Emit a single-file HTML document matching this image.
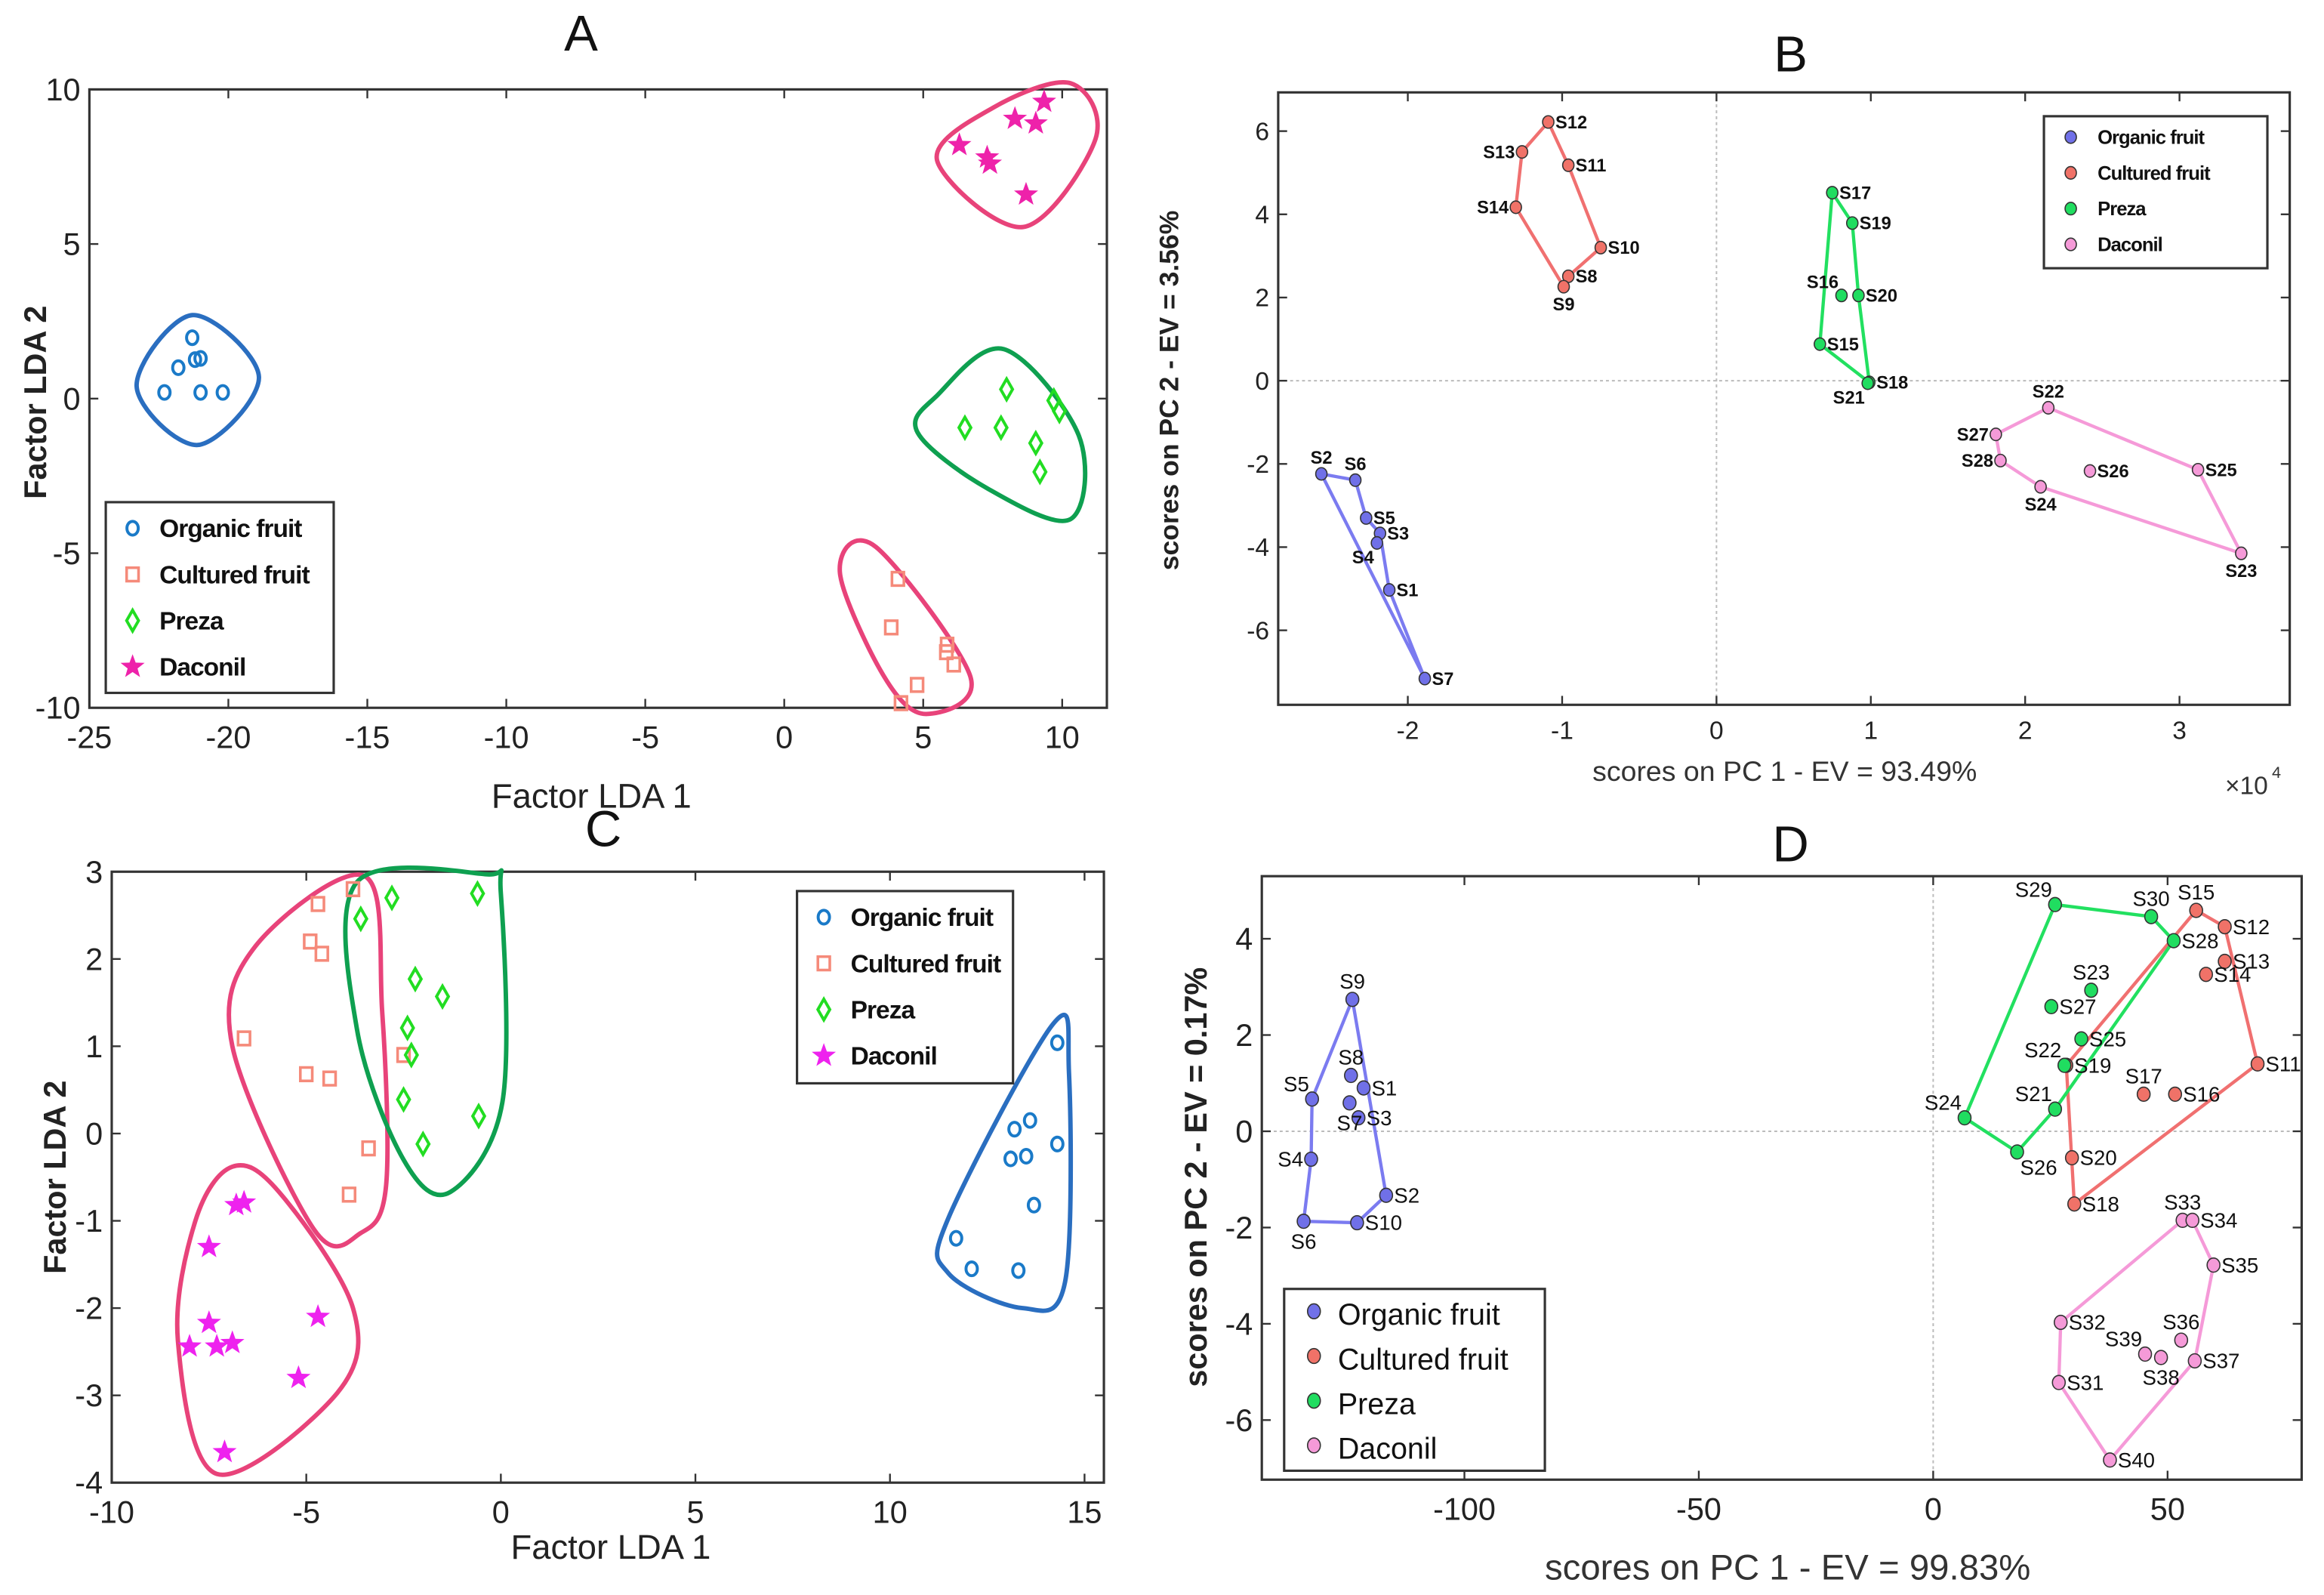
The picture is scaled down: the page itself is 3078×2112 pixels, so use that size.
<!DOCTYPE html>
<html><head><meta charset="utf-8">
<style>
html,body{margin:0;padding:0;background:#fff;}
svg{display:block;}
text{font-family:"Liberation Sans",sans-serif;}
</style></head>
<body>
<svg id="fig" xmlns="http://www.w3.org/2000/svg" width="3078" height="2112" viewBox="0 0 1560 1070.4" preserveAspectRatio="none">
<rect x="0" y="0" width="1560" height="1071" fill="#fff"/>
</svg>
<script>
// ---------- Panel A data ----------
const aOrganicX=[-22.3,-21.8,-21.3,-21.2,-21.0,-21.0,-20.2];
const aOrganicY=[0.2,1.0,1.97,1.26,1.3,0.2,0.2];
const aCulturedX=[4.09,3.85,5.86,5.83,6.1,4.78,4.2];
const aCulturedY=[-5.83,-7.4,-7.96,-8.2,-8.6,-9.26,-9.85];
const aPrezaX=[6.5,8.0,7.8,9.7,9.9,9.05,9.2];
const aPrezaY=[-0.94,0.3,-0.94,-0.06,-0.4,-1.44,-2.37];
const aDaconilX=[6.3,7.3,7.4,8.3,9.05,9.35,8.7];
const aDaconilY=[8.2,7.8,7.6,9.05,8.9,9.6,6.6];
const aHullOrganic=[[-21.3,2.7],[-18.9,0.7],[-21.1,-1.5],[-23.3,0.4]];
const aHullCultured=[[3.3,-4.8],[6.7,-9.0],[5.1,-10.2],[3.6,-9.0],[2.0,-5.6]];
const aHullPreza=[[7.9,1.6],[10.6,-1.2],[10.3,-3.9],[7.3,-2.9],[4.8,-1.1],[5.5,0.1]];
const aHullDaconil=[[10.3,10.2],[11.2,8.4],[8.6,5.55],[5.5,7.7],[7.5,9.4]];
const aXTicks=[-25,-20,-15,-10,-5,0,5,10];
const aYTicks=[-10,-5,0,5,10];
// ---------- Panel B data (x in 1e4) ----------
const bNames=["S1","S2","S3","S4","S5","S6","S7","S8","S9","S10","S11","S12","S13","S14","S15","S16","S17","S18","S19","S20","S21","S22","S23","S24","S25","S26","S27","S28"];
const bX=[-2.12,-2.56,-2.18,-2.2,-2.27,-2.34,-1.89,-0.96,-0.99,-0.75,-0.96,-1.09,-1.26,-1.3,0.67,0.81,0.75,0.99,0.88,0.92,0.98,2.15,3.4,2.1,3.12,2.42,1.81,1.84];
const bY=[-5.03,-2.24,-3.67,-3.9,-3.3,-2.39,-7.16,2.51,2.26,3.2,5.18,6.22,5.5,4.17,0.88,2.05,4.52,-0.04,3.79,2.05,-0.06,-0.65,-4.15,-2.55,-2.14,-2.17,-1.29,-1.92];
const bGroup=[0,0,0,0,0,0,0,1,1,1,1,1,1,1,2,2,2,2,2,2,2,3,3,3,3,3,3,3];
const bHulls=[["S2","S6","S5","S3","S1","S7"],["S12","S11","S10","S8","S9","S14","S13"],["S17","S19","S20","S18","S15"],["S22","S25","S23","S24","S28","S27"]];
const bXTicks=[-2,-1,0,1,2,3];
const bYTicks=[-6,-4,-2,0,2,4,6];
// ---------- Panel C data ----------
const cOrganicX=[14.3,13.2,13.6,13.1,13.5,14.3,13.7,11.7,12.1,13.3];
const cOrganicY=[1.04,0.05,0.15,-0.29,-0.26,-0.12,-0.82,-1.2,-1.55,-1.57];
const cCulturedX=[-3.8,-4.7,-4.9,-4.6,-6.6,-5.0,-4.4,-3.4,-3.9,-2.5];
const cCulturedY=[2.8,2.63,2.2,2.06,1.09,0.68,0.63,-0.17,-0.7,0.9];
const cPrezaX=[-3.6,-2.8,-0.6,-2.2,-1.5,-2.4,-2.3,-2.5,-2.0,-0.57];
const cPrezaY=[2.46,2.7,2.75,1.77,1.57,1.21,0.9,0.39,-0.12,0.2];
const cDaconilX=[-6.6,-6.8,-7.5,-7.5,-8.0,-7.3,-6.9,-4.7,-5.2,-7.1];
const cDaconilY=[-0.79,-0.82,-1.3,-2.17,-2.44,-2.44,-2.4,-2.1,-2.8,-3.65];
const cHullOrganic=[[14.2,1.26],[14.6,0.7],[14.5,-1.7],[13.4,-2.0],[11.5,-1.6],[11.5,-0.97]];
const cHullCultured=[[-3.5,2.95],[-3.05,1.4],[-2.95,-0.6],[-3.6,-1.14],[-4.8,-1.1],[-6.9,1.0],[-6.3,2.15]];
const cHullPreza=[[-3.7,2.88],[-0.38,2.97],[0,2.75],[0.04,0.36],[-1.3,-0.67],[-2.5,-0.3],[-3.7,1.2]];
const cHullDaconil=[[-6.9,-0.38],[-5.7,-0.67],[-3.8,-2.0],[-4.2,-2.97],[-7.3,-3.9],[-8.3,-2.37],[-7.85,-1.0]];
const cXTicks=[-10,-5,0,5,10,15];
const cYTicks=[-4,-3,-2,-1,0,1,2,3];
// ---------- Panel D data ----------
const dNames=["S1","S2","S3","S4","S5","S6","S7","S8","S9","S10","S11","S12","S13","S14","S15","S16","S17","S18","S19","S20","S21","S22","S23","S24","S25","S26","S27","S28","S29","S30","S31","S32","S33","S34","S35","S36","S37","S38","S39","S40"];
const dX=[-121.5,-116.7,-122.6,-132.7,-132.5,-134.3,-124.5,-124.2,-123.9,-122.9,69.2,62.2,62.2,58.2,56.1,51.6,44.9,30.1,28.4,29.6,26.0,28.0,33.7,6.7,31.6,17.9,25.2,51.3,26.0,46.5,26.8,27.2,53.2,55.3,59.8,52.9,55.8,48.6,45.2,37.7];
const dY=[0.9,-1.33,0.28,-0.58,0.67,-1.87,0.59,1.16,2.74,-1.9,1.4,4.25,3.53,3.26,4.59,0.77,0.77,-1.51,1.37,-0.55,0.46,1.37,2.93,0.28,1.92,-0.43,2.59,3.96,4.71,4.46,-5.22,-3.97,-1.85,-1.85,-2.78,-4.34,-4.77,-4.7,-4.63,-6.83];
const dGroup=[0,0,0,0,0,0,0,0,0,0,1,1,1,1,1,1,1,1,1,1,2,2,2,2,2,2,2,2,2,2,3,3,3,3,3,3,3,3,3,3];
const dHulls=[["S9","S2","S10","S6","S4","S5"],["S15","S12","S11","S18","S19"],["S29","S30","S28","S21","S26","S24"],["S33","S34","S35","S37","S40","S31","S32"]];
const dXTicks=[-100,-50,0,50];
const dYTicks=[-6,-4,-2,0,2,4];
const legendNames=["Organic fruit","Cultured fruit","Preza","Daconil"];

const NS="http://www.w3.org/2000/svg";
const svg=document.getElementById('fig');
function el(tag,attrs,parent){const e=document.createElementNS(NS,tag);for(const k in attrs)e.setAttribute(k,attrs[k]);(parent||svg).appendChild(e);return e;}
function txt(s,x,y,size,attrs,parent){const t=el('text',Object.assign({x:x,y:y,'font-size':size},attrs||{}),parent);t.textContent=s;return t;}
function scale(d0,d1,p0,p1){return v=>p0+(v-d0)*(p1-p0)/(d1-d0);}
function smooth(pts){const n=pts.length;let d=`M${pts[0][0]},${pts[0][1]}`;for(let i=0;i<n;i++){const p0=pts[(i-1+n)%n],p1=pts[i],p2=pts[(i+1)%n],p3=pts[(i+2)%n];const c1=[p1[0]+(p2[0]-p0[0])/6,p1[1]+(p2[1]-p0[1])/6],c2=[p2[0]-(p3[0]-p1[0])/6,p2[1]-(p3[1]-p1[1])/6];d+=`C${c1[0]},${c1[1]} ${c2[0]},${c2[1]} ${p2[0]},${p2[1]}`;}return d+'Z';}

function frame(g,L,T,R,B,sx,sy,xt,yt,fs,xlab,ylab){
  el('rect',{x:L,y:T,width:R-L,height:B-T,fill:'none',stroke:'#333','stroke-width':1.6},g);
  xt.forEach(v=>{const x=sx(v);el('line',{x1:x,y1:B,x2:x,y2:B-6,stroke:'#333','stroke-width':1.2},g);el('line',{x1:x,y1:T,x2:x,y2:T+6,stroke:'#333','stroke-width':1.2},g);
    const t=txt(xlab?xlab(v):String(v),x,B+fs+6,fs,{'text-anchor':'middle',fill:'#222'},g);});
  yt.forEach(v=>{const y=sy(v);el('line',{x1:L,y1:y,x2:L+6,y2:y,stroke:'#333','stroke-width':1.2},g);el('line',{x1:R,y1:y,x2:R-6,y2:y,stroke:'#333','stroke-width':1.2},g);
    const t=txt(String(v),L-6,y+fs*0.35,fs,{'text-anchor':'end',fill:'#222'},g);});
}
function marker(g,type,x,y,color){
  if(type==='o') el('ellipse',{cx:x,cy:y,rx:3.8,ry:4.6,fill:'none',stroke:color,'stroke-width':2},g);
  else if(type==='s') el('rect',{x:x-4,y:y-4.5,width:8,height:9,fill:'none',stroke:color,'stroke-width':1.8},g);
  else if(type==='d') el('path',{d:`M${x},${y-7}L${x+4},${y}L${x},${y+7}L${x-4},${y}Z`,fill:'none',stroke:color,'stroke-width':2},g);
  else if(type==='*'){let d='';for(let i=0;i<10;i++){const r=i%2?3.5:8.5,a=-Math.PI/2+i*Math.PI/5;d+=(i?'L':'M')+(x+r*Math.cos(a))+','+(y+r*Math.sin(a));}el('path',{d:d+'Z',fill:color},g);}
}
function legendBox(g,x,y,w,h,items,fs,rowH,name){
  const lg=el('g',{},g);
  el('rect',{x:x,y:y,width:w,height:h,fill:'#fff',stroke:'#333','stroke-width':1.6},lg);
  items.forEach((it,i)=>{const cy=y+rowH*(i+0.5)+2;it.draw(lg,x+18,cy);const t=txt(it.label,x+36,cy+fs*0.35,fs,{fill:'#111','font-weight':it.bold?'bold':'normal','letter-spacing':it.bold?'-0.5':'0'},lg);});
}

// ================= Panel A =================
(function(){
  const g=el('g',{});
  const L=60,R=743,T=60,B=475;
  const sx=scale(-25,10,L,713),sy=scale(-10,10,B,T);
  frame(g,L,T,R,B,sx,sy,aXTicks,aYTicks,21);
  txt('A',390,34,34,{'text-anchor':'middle',fill:'#111'},g);
  txt('Factor LDA 1',397,542,23,{'text-anchor':'middle',fill:'#222'},g);
  txt('Factor LDA 2',0,0,21,{'text-anchor':'middle',fill:'#222','font-weight':'bold',transform:'translate(31,270) rotate(-90)'},g);
  const hulls=[[aHullOrganic,'#2a6ec0'],[aHullCultured,'#e8437a'],[aHullPreza,'#0ea050'],[aHullDaconil,'#e8437a']];
  hulls.forEach(h=>{const p=el('path',{d:smooth(h[0].map(q=>[sx(q[0]),sy(q[1])])),fill:'none',stroke:h[1],'stroke-width':3},g);});
  const sets=[[aOrganicX,aOrganicY,'o','#1a7ac8'],[aCulturedX,aCulturedY,'s','#f58a7a'],[aPrezaX,aPrezaY,'d','#22dd22'],[aDaconilX,aDaconilY,'*','#ee22aa']];
  sets.forEach(s=>s[0].forEach((v,i)=>marker(g,s[2],sx(v),sy(s[1][i]),s[3])));
  legendBox(g,71,337,153,128,sets.map((s,i)=>({label:legendNames[i],bold:true,draw:(lg,x,y)=>marker(lg,s[2],x,y,s[3])})),17,31,'legend-a');
})();

// ================= Panel C =================
(function(){
  const g=el('g',{});
  const L=75,R=741,T=585,B=995;
  const sx=scale(-10,15,L,728),sy=scale(-4,3,B,T);
  frame(g,L,T,R,B,sx,sy,cXTicks,cYTicks,21);
  txt('C',405,568,34,{'text-anchor':'middle',fill:'#111'},g);
  txt('Factor LDA 1',410,1046,23,{'text-anchor':'middle',fill:'#222'},g);
  txt('Factor LDA 2',0,0,21,{'text-anchor':'middle',fill:'#222','font-weight':'bold',transform:'translate(44,790) rotate(-90)'},g);
  const hulls=[[cHullOrganic,'#2a6ec0'],[cHullCultured,'#e8437a'],[cHullPreza,'#0ea050'],[cHullDaconil,'#e8437a']];
  hulls.forEach(h=>{const p=el('path',{d:smooth(h[0].map(q=>[sx(q[0]),sy(q[1])])),fill:'none',stroke:h[1],'stroke-width':3},g);});
  const sets=[[cOrganicX,cOrganicY,'o','#1a7ac8'],[cCulturedX,cCulturedY,'s','#f58a7a'],[cPrezaX,cPrezaY,'d','#22dd22'],[cDaconilX,cDaconilY,'*','#ee22ee']];
  sets.forEach(s=>s[0].forEach((v,i)=>marker(g,s[2],sx(v),sy(s[1][i]),s[3])));
  legendBox(g,535,598,145,129,sets.map((s,i)=>({label:legendNames[i],bold:true,draw:(lg,x,y)=>marker(lg,s[2],x,y,s[3])})),17,31,'legend-c');
})();

// ============ PCA panels (B, D) ============
const pcaFill=['#7070e8','#f07268','#20dd60','#f59ad8'];
const pcaLine=['#7b7bf0','#f07070','#22e060','#f59ad8'];
function pcaPanel(cfg){
  const g=el('g',{});
  const sx=scale(cfg.x0,cfg.x1,cfg.px0,cfg.px1),sy=scale(cfg.y0,cfg.y1,cfg.py0,cfg.py1);
  el('line',{x1:sx(0),y1:cfg.T,x2:sx(0),y2:cfg.B,stroke:'#bbb','stroke-width':1,'stroke-dasharray':'2,2'},g);
  el('line',{x1:cfg.L,y1:sy(0),x2:cfg.R,y2:sy(0),stroke:'#bbb','stroke-width':1,'stroke-dasharray':'2,2'},g);
  frame(g,cfg.L,cfg.T,cfg.R,cfg.B,sx,sy,cfg.xt,cfg.yt,cfg.tfs);
  cfg.hulls.forEach((h,gi)=>{const pts=h.map(n=>{const i=cfg.names.indexOf(n);return sx(cfg.X[i])+','+sy(cfg.Y[i]);});
    const p=el('polygon',{points:pts.join(' '),fill:'none',stroke:pcaLine[gi],'stroke-width':2.2},g);});
  cfg.X.forEach((v,i)=>{const x=sx(v),y=sy(cfg.Y[i]);
    const c=el('ellipse',{cx:x,cy:y,rx:cfg.r,ry:cfg.r*1.1,fill:pcaFill[cfg.G[i]],stroke:'#333','stroke-width':0.8},g);
    
    const pos=cfg.lab[cfg.names[i]]||'r';let lx=x+cfg.r+1,ly=y+cfg.lfs*0.35,an='start';
    if(pos==='l'){lx=x-cfg.r-1;an='end';}
    if(pos==='t'){lx=x;ly=y-cfg.r-3;an='middle';}
    if(pos==='b'){lx=x;ly=y+cfg.r+cfg.lfs;an='middle';}
    if(pos==='tl'){lx=x-2;ly=y-cfg.r-1;an='end';}
    if(pos==='bl'){lx=x-2;ly=y+cfg.r+cfg.lfs-2;an='end';}
    if(pos==='br'){lx=x+2;ly=y+cfg.r+cfg.lfs-3;an='start';}
    const t=txt(cfg.names[i],lx,ly,cfg.lfs,{'text-anchor':an,fill:'#111','font-weight':cfg.lbold?'bold':'normal'},g);
    });
  return g;
}
// Panel B
(function(){
  const g=pcaPanel({name:'panel-b',names:bNames,X:bX,Y:bY,G:bGroup,hulls:bHulls,xt:bXTicks,yt:bYTicks,
    L:858,R:1537,T:62,B:473,x0:-2,x1:3,px0:945,px1:1463,y0:-6,y1:6,py0:423,py1:88,tfs:17,r:3.8,lfs:12,lbold:true,
    lab:{S9:'b',S13:'l',S14:'l',S16:'tl',S21:'bl',S4:'bl',S2:'t',S6:'t',S22:'t',S24:'b',S23:'b',S27:'l',S28:'l',S12:'r'}});
  txt('B',1202,48,34,{'text-anchor':'middle',fill:'#111'},g);
  txt('scores on PC 1 - EV = 93.49%',1198,524,19,{'text-anchor':'middle',fill:'#333'},g);
  txt('×10',1508,533,17,{'text-anchor':'middle',fill:'#333'},g);
  txt('4',1525,522,11,{fill:'#333'},g);
  txt('scores on PC 2 - EV = 3.56%',0,0,18,{'text-anchor':'middle',fill:'#222','font-weight':'bold',transform:'translate(791,262) rotate(-90)'},g);
  legendBox(g,1372,78,150,102,legendNames.map((n,i)=>({label:n,bold:true,draw:(lg,x,y)=>el('ellipse',{cx:x,cy:y,rx:3.8,ry:4.2,fill:pcaFill[i],stroke:'#333','stroke-width':0.8},lg)})),13,24,'legend-b');
})();
// Panel D
(function(){
  const g=pcaPanel({name:'panel-d',names:dNames,X:dX,Y:dY,G:dGroup,hulls:dHulls,xt:dXTicks,yt:dYTicks,
    L:847,R:1545,T:588,B:993,x0:-100,x1:50,px0:983,px1:1455,y0:-6,y1:4,py0:953,py1:630,tfs:21,r:4.3,lfs:14,lbold:false,
    lab:{S9:'t',S8:'t',S5:'tl',S4:'l',S6:'b',S7:'b',S29:'tl',S30:'t',S15:'t',S23:'t',S22:'tl',S21:'tl',S24:'tl',S26:'br',S33:'t',S36:'t',S39:'tl',S38:'b',S17:'t'}});
  txt('D',1202,578,34,{'text-anchor':'middle',fill:'#111'},g);
  txt('scores on PC 1 - EV = 99.83%',1200,1060,24,{'text-anchor':'middle',fill:'#333'},g);
  txt('scores on PC 2 - EV = 0.17%',0,0,21,{'text-anchor':'middle',fill:'#222','font-weight':'bold',transform:'translate(810,790) rotate(-90)'},g);
  legendBox(g,862,865,175,122,legendNames.map((n,i)=>({label:n,bold:false,draw:(lg,x,y)=>el('ellipse',{cx:x+2,cy:y-2,rx:4.3,ry:5,fill:pcaFill[i],stroke:'#333','stroke-width':0.8},lg)})),20,30,'legend-d');
})();
</script>
</body></html>
